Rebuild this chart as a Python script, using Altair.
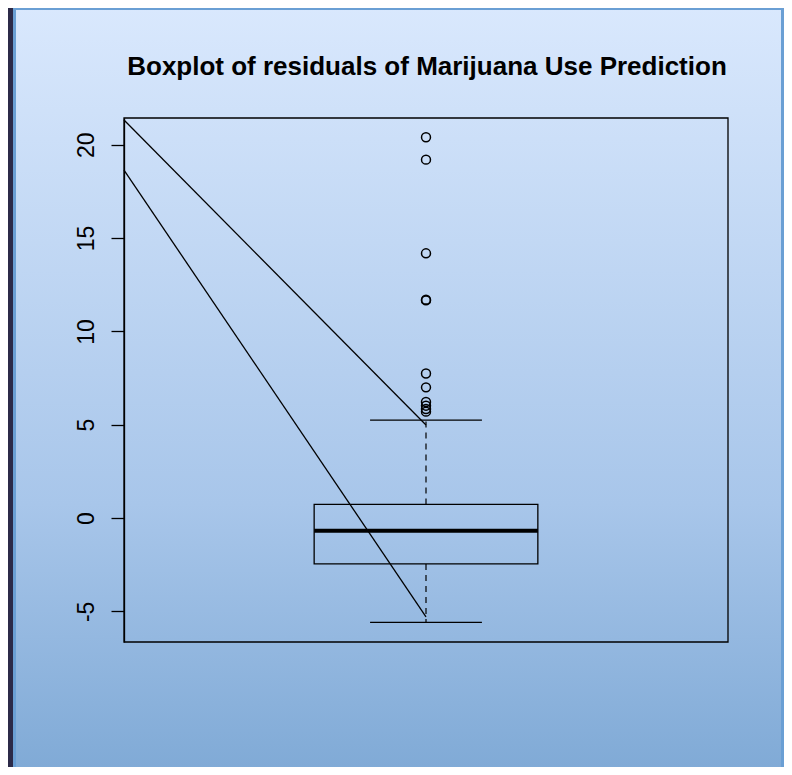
import altair as alt
import pandas as pd

# ---- data ----
box_x = [1.0]
q1 = [-2.46]
median = [-0.68]
q3 = [0.73]
whisker_low = [-5.59]
whisker_high = [5.25]
outliers = [20.4, 19.2, 14.18, 11.70, 11.66, 7.74, 7.0, 6.22, 6.02, 5.84, 5.70]
line_x = [0.46, 1.0]
line_a_y = [21.32, 4.98]
line_b_y = [18.64, -5.29]
y_ticks = [-5, 0, 5, 10, 15, 20]
title_text = ["Boxplot of residuals of Marijuana Use Prediction"]

W, H = 604, 524

# ---- tables ----
box_df = pd.DataFrame({
    "x": box_x,
    "x_lo": [b - 0.2 for b in box_x],
    "x_hi": [b + 0.2 for b in box_x],
    "cap_lo": [b - 0.1 for b in box_x],
    "cap_hi": [b + 0.1 for b in box_x],
    "q1": q1, "median": median, "q3": q3,
    "wlo": whisker_low, "whi": whisker_high,
})
out_df = pd.DataFrame({"x": [box_x[0]] * len(outliers), "y": outliers})
lines_df = pd.DataFrame({
    "x": line_x + line_x,
    "y": line_a_y + line_b_y,
    "line": ["a", "a", "b", "b"],
})
bg_df = pd.DataFrame({"k": [0]})
title_df = pd.DataFrame({"t": title_text})

xs = alt.Scale(domain=[0.46, 1.54], nice=False, zero=False)
ys = alt.Scale(domain=[-6.64, 21.43], nice=False, zero=False)

X = lambda f: alt.X(f, type="quantitative", scale=xs, axis=None)
Y = lambda f: alt.Y(f, type="quantitative", scale=ys,
                    axis=alt.Axis(values=y_ticks, title=None, grid=False,
                                  labelExpr="'' + datum.value",
                                  labelAngle=270, labelAlign="center",
                                  labelBaseline="bottom", labelPadding=13,
                                  labelFontSize=23, labelFont="Liberation Sans",
                                  labelColor="black", tickColor="black",
                                  tickSize=13, tickWidth=1.3,
                                  domainColor="black", domainWidth=1.3,
                                  labelFlush=False, labelOverlap=False,
                                  zindex=1))

panel = alt.Chart(bg_df).mark_rect(
    color=alt.Gradient(
        gradient="linear", x1=0, x2=0, y1=0, y2=1,
        stops=[alt.GradientStop(color="#d9e8fd", offset=0),
               alt.GradientStop(color="#a8c6ea", offset=0.65),
               alt.GradientStop(color="#80aad6", offset=1)]),
    stroke="#6a9fd4", strokeWidth=3,
).encode(x=alt.value(-109.5), x2=alt.value(658.5),
         y=alt.value(-109.5), y2=alt.value(652))

frame = alt.Chart(bg_df).mark_rect(
    fillOpacity=0, stroke="black", strokeWidth=1.3
).encode(x=alt.value(0), x2=alt.value(W), y=alt.value(0), y2=alt.value(H))

title = alt.Chart(title_df).mark_text(
    font="Liberation Sans", fontSize=26, fontWeight="bold", color="black",
    align="center", baseline="alphabetic"
).encode(text="t:N", x=alt.value(W / 2 + 1), y=alt.value(-43))

box = alt.Chart(box_df).mark_rect(
    fillOpacity=0, stroke="black", strokeWidth=1.3
).encode(x=X("x_lo"), x2="x_hi", y=Y("q1"), y2="q3")

med = alt.Chart(box_df).mark_rule(color="black", strokeWidth=4).encode(
    x=X("x_lo"), x2="x_hi", y=Y("median"))

wh_up = alt.Chart(box_df).mark_rule(color="black", strokeWidth=1.2,
                                    strokeDash=[6, 5]).encode(
    x=X("x"), y=Y("q3"), y2="whi")
wh_lo = alt.Chart(box_df).mark_rule(color="black", strokeWidth=1.2,
                                    strokeDash=[6, 5]).encode(
    x=X("x"), y=Y("q1"), y2="wlo")
cap_up = alt.Chart(box_df).mark_rule(color="black", strokeWidth=1.3).encode(
    x=X("cap_lo"), x2="cap_hi", y=Y("whi"))
cap_lo = alt.Chart(box_df).mark_rule(color="black", strokeWidth=1.3).encode(
    x=X("cap_lo"), x2="cap_hi", y=Y("wlo"))

pts = alt.Chart(out_df).mark_point(
    shape="circle", filled=False, size=80, color="black", strokeWidth=1.5,
    opacity=1
).encode(x=X("x"), y=Y("y"))

diag = alt.Chart(lines_df).mark_line(color="black", strokeWidth=1.3).encode(
    x=X("x"), y=Y("y"), detail="line:N")

chart = alt.layer(panel, box, med, wh_up, wh_lo, cap_up, cap_lo, pts, diag,
                  frame, title).properties(
    width=W, height=H,
    autosize=alt.AutoSizeParams(type="none"),
    padding={"left": 116, "top": 110, "right": 56, "bottom": 125},
    background="#2c2a48",
).configure_view(stroke=None)

chart.save("out.html", embed_options={"renderer": "svg", "actions": False})
